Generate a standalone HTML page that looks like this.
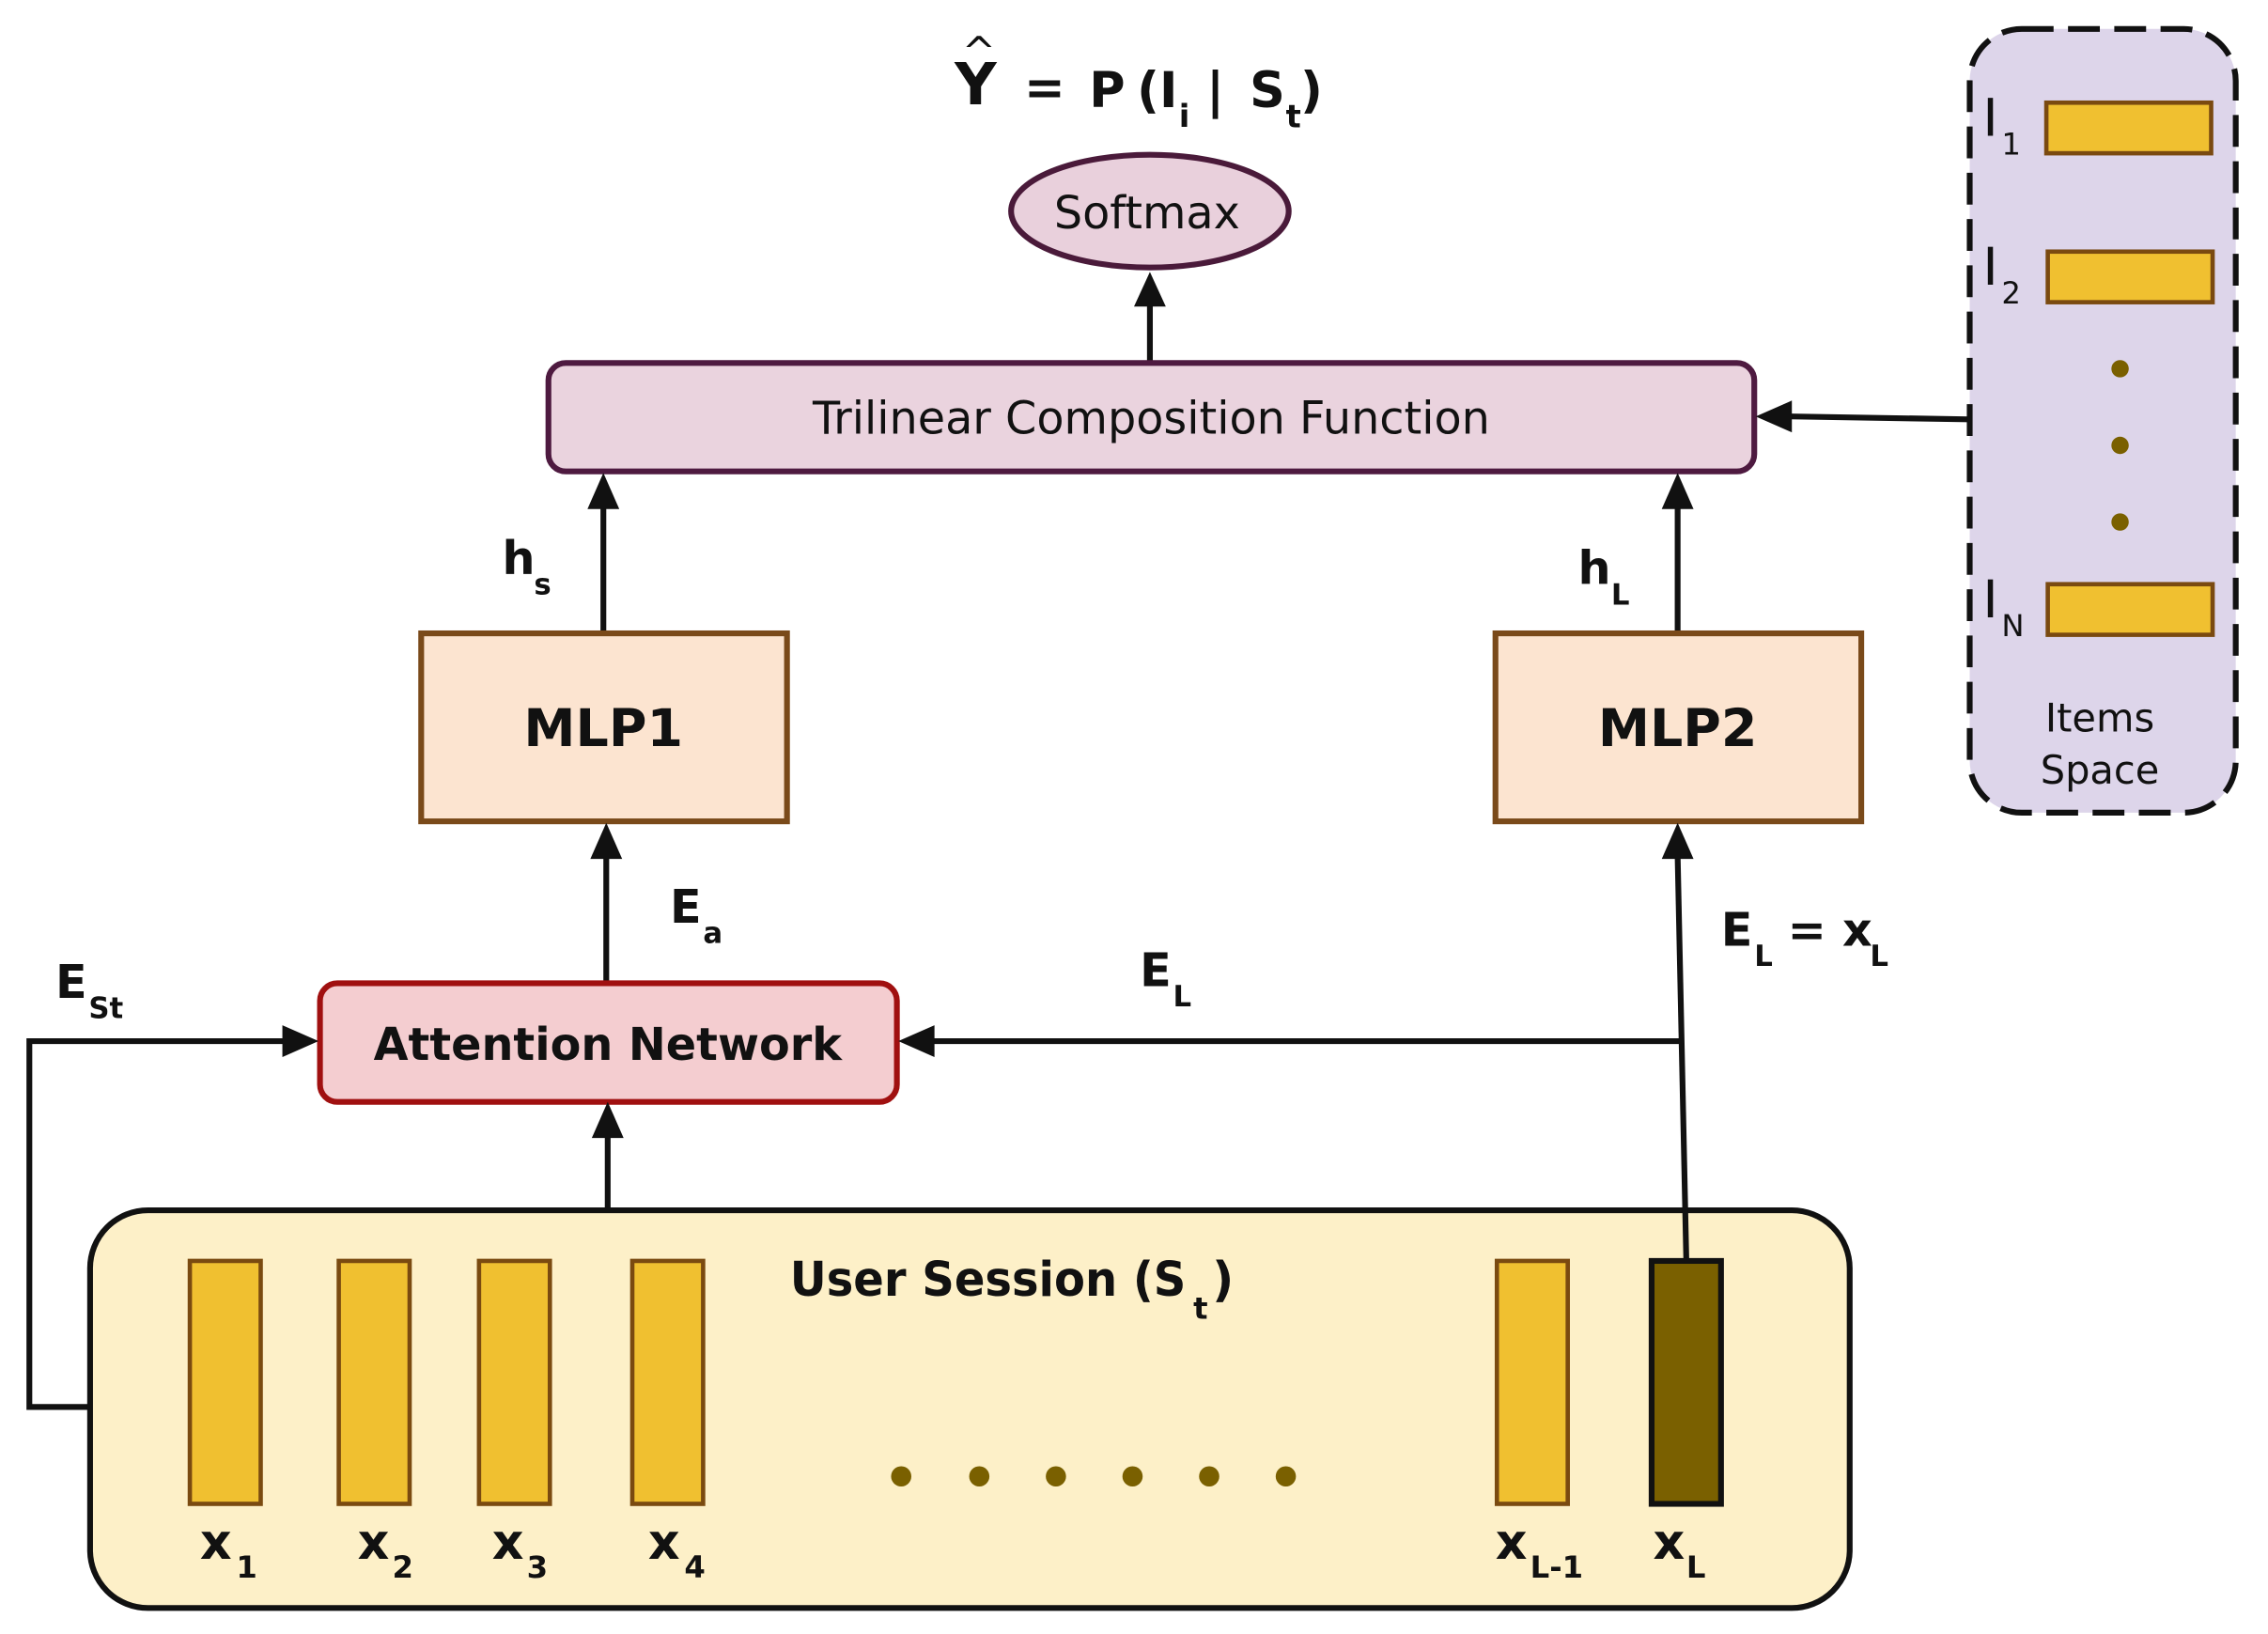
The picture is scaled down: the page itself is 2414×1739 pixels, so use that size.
<!DOCTYPE html>
<html><head><meta charset="utf-8"><style>
html,body{margin:0;padding:0;background:#fff}
svg{display:block}
text{font-family:"DejaVu Sans","Liberation Sans",sans-serif;fill:#111}
</style></head><body>
<svg width="2414" height="1739" viewBox="0 0 1568 1130" xmlns="http://www.w3.org/2000/svg">
<!-- Title -->
<g font-weight="bold">
<text x="660" y="72" font-size="40">Y</text>
<text x="665" y="45" font-size="28" font-weight="normal">^</text>
<text x="708" y="72" font-size="34">=</text>
<text x="753" y="74" font-size="34">P</text>
<text x="786" y="74" font-size="34">(I</text>
<text x="815" y="88" font-size="22">i</text>
<text x="834" y="74" font-size="34">|</text>
<text x="864" y="74" font-size="34">S</text>
<text x="889" y="88" font-size="22">t</text>
<text x="899" y="74" font-size="34">)</text>
</g>

<!-- Softmax -->
<ellipse cx="795" cy="146" rx="96" ry="39" fill="#e9d0dc" stroke="#4a1a3a" stroke-width="4"/>
<text x="793" y="158" font-size="31" text-anchor="middle">Softmax</text>
<line x1="795" y1="250" x2="795" y2="210" stroke="#111" stroke-width="4"/>
<polygon points="795,188 784,212 806,212" fill="#111"/>

<!-- Trilinear -->
<rect x="379" y="251" width="834" height="75" rx="12" fill="#ead3de" stroke="#4e1a40" stroke-width="4"/>
<text x="796" y="300" font-size="31" text-anchor="middle">Trilinear Composition Function</text>

<line x1="417" y1="438" x2="417" y2="350" stroke="#111" stroke-width="4"/>
<polygon points="417,327 406,352 428,352" fill="#111"/>
<line x1="1160" y1="438" x2="1160" y2="350" stroke="#111" stroke-width="4"/>
<polygon points="1160,327 1149,352 1171,352" fill="#111"/>
<text x="347" y="397" font-size="32" font-weight="bold">h</text>
<text x="369" y="411" font-size="20" font-weight="bold">s</text>
<text x="1091" y="404" font-size="32" font-weight="bold">h</text>
<text x="1114" y="418" font-size="20" font-weight="bold">L</text>

<rect x="291" y="438" width="253" height="130" fill="#fce4d0" stroke="#7a4a1a" stroke-width="4"/>
<text x="417" y="516" font-size="36" font-weight="bold" text-anchor="middle">MLP1</text>
<rect x="1034" y="438" width="253" height="130" fill="#fce4d0" stroke="#7a4a1a" stroke-width="4"/>
<text x="1160" y="516" font-size="36" font-weight="bold" text-anchor="middle">MLP2</text>

<line x1="419" y1="680" x2="419" y2="592" stroke="#111" stroke-width="4"/>
<polygon points="419,569 408,594 430,594" fill="#111"/>
<text x="463" y="638" font-size="32" font-weight="bold">E</text>
<text x="486" y="652" font-size="20" font-weight="bold">a</text>

<rect x="221" y="680" width="399" height="82" rx="12" fill="#f4cdd0" stroke="#a01010" stroke-width="4"/>
<text x="420" y="733" font-size="31" font-weight="bold" text-anchor="middle">Attention Network</text>

<line x1="420" y1="837" x2="420" y2="785" stroke="#111" stroke-width="4"/>
<polygon points="420,762 409,787 431,787" fill="#111"/>

<line x1="1163" y1="720" x2="645" y2="720" stroke="#111" stroke-width="4"/>
<polygon points="621,720 646,709 646,731" fill="#111"/>
<text x="788" y="682" font-size="32" font-weight="bold">E</text>
<text x="811" y="696" font-size="20" font-weight="bold">L</text>

<text x="1190" y="654" font-size="32" font-weight="bold">E</text>
<text x="1213" y="668" font-size="20" font-weight="bold">L</text>
<text x="1236" y="654" font-size="32" font-weight="bold">= x</text>
<text x="1293" y="668" font-size="20" font-weight="bold">L</text>

<polyline points="62,973 20,973 20,720 196,720" fill="none" stroke="#111" stroke-width="4"/>
<polygon points="220,720 195,709 195,731" fill="#111"/>
<text x="38" y="690" font-size="32" font-weight="bold">E</text>
<text x="61" y="704" font-size="20" font-weight="bold">St</text>

<!-- Session box -->
<rect x="62" y="837" width="1217" height="275" rx="40" fill="#fdf0c8" stroke="#111" stroke-width="4"/>
<text x="546" y="896" font-size="33" font-weight="bold" textLength="274" lengthAdjust="spacingAndGlyphs">User Session (S</text>
<text x="825" y="912" font-size="21" font-weight="bold">t</text>
<text x="838" y="896" font-size="33" font-weight="bold">)</text>

<line x1="1166" y1="872" x2="1160" y2="592" stroke="#111" stroke-width="4"/>
<polygon points="1160,569 1149,594 1171,594" fill="#111"/>

<g fill="#f0c030" stroke="#7a4a10" stroke-width="3">
<rect x="131" y="872" width="49" height="168"/>
<rect x="234" y="872" width="49" height="168"/>
<rect x="331" y="872" width="49" height="168"/>
<rect x="437" y="872" width="49" height="168"/>
<rect x="1035" y="872" width="49" height="168"/>
</g>
<rect x="1142" y="872" width="48" height="168" fill="#7a6000" stroke="#111" stroke-width="4"/>
<g fill="#7a6000">
<circle cx="623" cy="1021" r="7"/><circle cx="677" cy="1021" r="7"/><circle cx="730" cy="1021" r="7"/>
<circle cx="783" cy="1021" r="7"/><circle cx="836" cy="1021" r="7"/><circle cx="889" cy="1021" r="7"/>
</g>
<g font-size="34" font-weight="bold">
<text x="138" y="1078">x</text><text x="247" y="1078">x</text><text x="340" y="1078">x</text><text x="448" y="1078">x</text>
<text x="1034" y="1078">x</text><text x="1143" y="1078">x</text>
</g>
<g font-size="21" font-weight="bold">
<text x="163" y="1091">1</text><text x="271" y="1091">2</text><text x="364" y="1091">3</text><text x="473" y="1091">4</text>
<text x="1058" y="1091">L-1</text><text x="1166" y="1091">L</text>
</g>

<!-- Items space -->
<rect x="1362" y="20" width="184" height="542" rx="36" fill="#ddd5ea" stroke="#111" stroke-width="4" stroke-dasharray="22,10"/>
<g fill="#f0c030" stroke="#7a4a10" stroke-width="3">
<rect x="1415" y="71" width="114" height="35"/>
<rect x="1416" y="174" width="114" height="35"/>
<rect x="1416" y="404" width="114" height="35"/>
</g>
<g fill="#7a6000"><circle cx="1466" cy="255" r="6"/><circle cx="1466" cy="308" r="6"/><circle cx="1466" cy="361" r="6"/></g>
<text x="1371" y="94" font-size="36">I</text><text x="1384" y="107" font-size="21">1</text>
<text x="1371" y="197" font-size="36">I</text><text x="1384" y="210" font-size="21">2</text>
<text x="1371" y="427" font-size="36">I</text><text x="1384" y="440" font-size="21">N</text>
<text x="1452" y="506" font-size="27" text-anchor="middle">Items</text>
<text x="1452" y="542" font-size="27" text-anchor="middle">Space</text>

<line x1="1362" y1="290" x2="1238" y2="288" stroke="#111" stroke-width="4"/>
<polygon points="1214,288 1239,277 1239,299" fill="#111"/>
</svg>
</body></html>
